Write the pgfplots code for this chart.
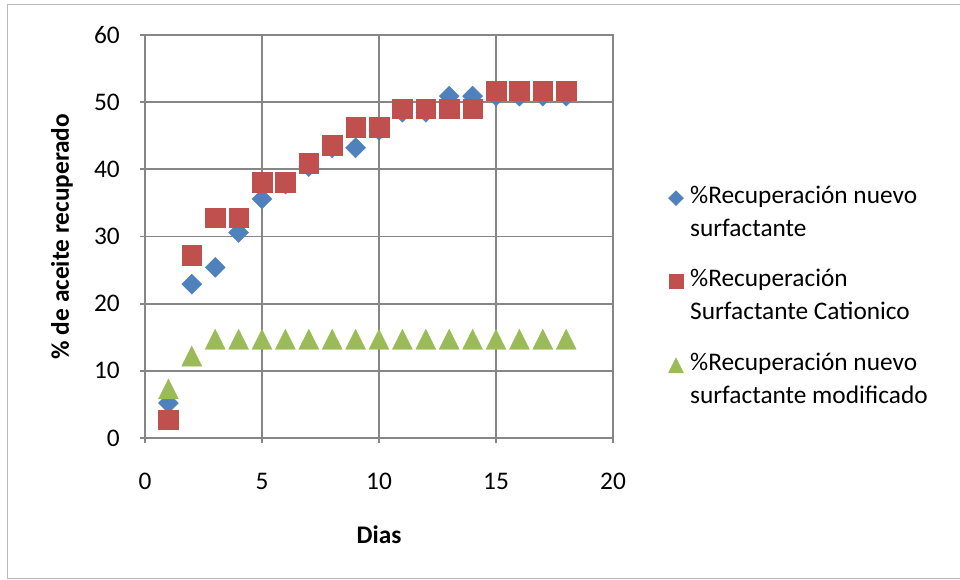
\documentclass[border=0pt]{standalone}
\usepackage{pgfplots}
\pgfplotsset{compat=1.18}
\usepackage{fontspec}
\setmainfont{Carlito}
\definecolor{cblue}{HTML}{4F81BD}
\definecolor{cred}{HTML}{C0504D}
\definecolor{cgreen}{HTML}{9BBB59}
\definecolor{cgrid}{HTML}{868686}
\pgfplotsset{myleg/.style={legend image code/.code={\draw[##1, every mark/.append style={scale=0.75}] plot coordinates {(0pt,11.5pt)};}}}
\begin{document}
\fontsize{19}{24.75}\selectfont
\begin{tikzpicture}
\useasboundingbox (0,0) rectangle (720pt,434.25pt);
\draw[color=gray!55, line width=0.75pt] (5.25pt,0.75pt) rectangle (730pt,430.5pt);
\begin{axis}[
  at={(108.75pt,105.75pt)}, anchor=south west,
  scale only axis, width=351pt, height=302.25pt,
  xmin=0, xmax=20, ymin=0, ymax=60,
  xtick={0,5,10,15,20}, ytick={0,10,20,30,40,50,60},
  grid=major,
  major grid style={color=cgrid, line width=1.3pt},
  axis line style={color=cgrid, line width=1.3pt},
  tick style={color=cgrid, line width=1.3pt},
  tick align=outside, tick pos=left,
  major tick length=3.75pt,
  /pgf/number format/assume math mode=true,
  yticklabel style={anchor=east, inner sep=0pt, xshift=-15pt},
  xticklabel style={anchor=north, inner sep=0pt, yshift=-22.5pt},
  xlabel={\bfseries Dias},
  ylabel={\bfseries \% de aceite recuperado},
  every axis x label/.style={at={(axis description cs:0.5,-0.2407)}, anchor=center},
  every axis y label/.style={at={(axis description cs:-0.1774,0.5)}, rotate=90, anchor=center},
  legend cell align=left,
  legend style={at={(axis description cs:1.1186,0.6246)}, anchor=north west,
    draw=none, fill=none, inner sep=0pt, outer sep=0pt,
    row sep=21.75pt, column sep=5pt,
    nodes={inner sep=0pt, align=left}},
]
\addplot[only marks, mark=square*, mark size=5.3pt,
  mark options={rotate=45, fill=cblue, draw=cblue, line width=0.3pt}, myleg]
coordinates {(1,5.2) (2,22.9) (3,25.4) (4,30.6) (5,35.6) (6,37.8) (7,40.4) (8,43.2) (9,43.2)
 (10,45.8) (11,48.5) (12,48.5) (13,50.9) (14,50.9) (15,50.9) (16,50.9) (17,50.9) (18,50.9)};
\addlegendentry{\%Recuperación nuevo\\surfactante}
\addplot[only marks, mark=square*, mark size=7.3pt,
  mark options={fill=cred, draw=cred, line width=0.3pt}, myleg]
coordinates {(1,2.7) (2,27.2) (3,32.8) (4,32.8) (5,38.1) (6,38.1) (7,40.9) (8,43.6) (9,46.3)
 (10,46.3) (11,49.0) (12,49.0) (13,49.0) (14,49.0) (15,51.7) (16,51.7) (17,51.7) (18,51.7)};
\addlegendentry{\%Recuperación\\Surfactante Cationico}
\addplot[only marks, mark=triangle*, mark size=8.66pt,
  mark options={yshift=-2.5pt, yscale=1.155, fill=cgreen, draw=cgreen, line width=0.3pt}, myleg]
coordinates {(1,7.3) (2,12.2) (3,14.7) (4,14.7) (5,14.7) (6,14.7) (7,14.7) (8,14.7) (9,14.7)
 (10,14.7) (11,14.7) (12,14.7) (13,14.7) (14,14.7) (15,14.7) (16,14.7) (17,14.7) (18,14.7)};
\addlegendentry{\%Recuperación nuevo\\surfactante modificado}
\end{axis}
\end{tikzpicture}
\end{document}
